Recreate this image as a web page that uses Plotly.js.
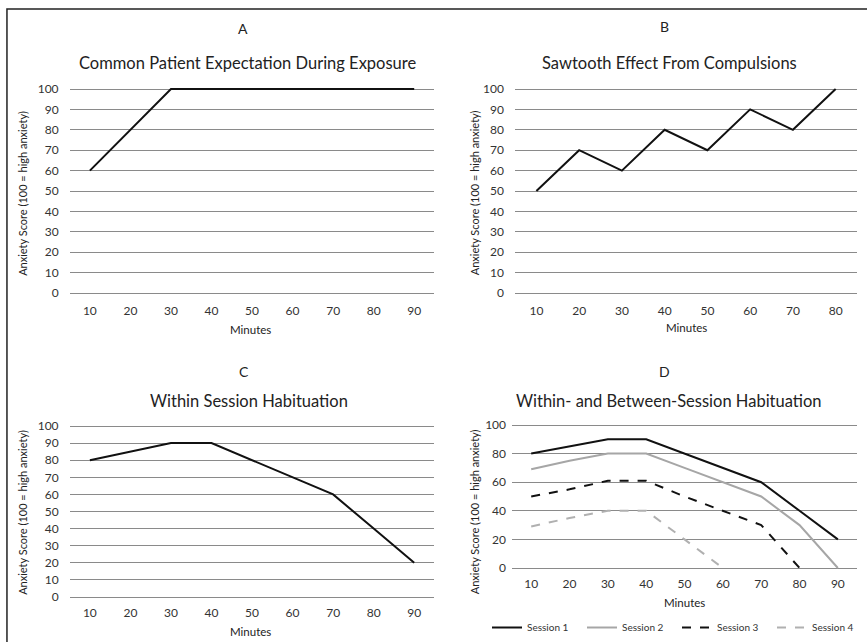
<!DOCTYPE html>
<html>
<head>
<meta charset="utf-8">
<script src="https://cdn.plot.ly/plotly-3.0.1.min.js"></script>
<style>html,body{margin:0;padding:0;background:#fff;overflow:hidden;}#chart{width:867px;height:642px;}</style>
</head>
<body>
<div id="chart"></div>
<script>
// ---- data ----
const minutesA = [10, 20, 30, 40, 50, 60, 70, 80, 90];
const anxietyA = [60, 80, 100, 100, 100, 100, 100, 100, 100];

const minutesB = [10, 20, 30, 40, 50, 60, 70, 80];
const anxietyB = [50, 70, 60, 80, 70, 90, 80, 100];

const minutesC = [10, 20, 30, 40, 50, 60, 70, 80, 90];
const anxietyC = [80, 85, 90, 90, 80, 70, 60, 40, 20];

const minutesD = [10, 20, 30, 40, 50, 60, 70, 80, 90];
const session1 = [80, 85, 90, 90, 80, 70, 60, 40, 20];
const session2 = [69, 75, 80, 80, 70, 60, 50, 30, 0];
const session3 = [50, 55, 61, 61, 50, 40, 30, 0];
const session4 = [29, 35, 40, 40, 20, 0];

const sessionNames = ["Session 1", "Session 2", "Session 3", "Session 4"];
const panelLetters = ["A", "B", "C", "D"];
const panelTitles = [
  "Common Patient Expectation During Exposure",
  "Sawtooth Effect From Compulsions",
  "Within Session Habituation",
  "Within- and Between-Session Habituation"
];
const yTitle = "Anxiety Score (100 = high anxiety)";
const xTitle = "Minutes";

// ---- layout helpers ----
const W = 867, H = 642;
const px = v => v / W;
const py = v => 1 - v / H;
const FONT = "Lato, 'Open Sans', sans-serif";
const GRID = "#8a8a8a";
const TICKFONT = {family: FONT, size: 12, color: "#333"};

const traces = [
  {x: minutesA, y: anxietyA, xaxis: "x", yaxis: "y", mode: "lines", line: {color: "#111", width: 2}, showlegend: false},
  {x: minutesB, y: anxietyB, xaxis: "x2", yaxis: "y2", mode: "lines", line: {color: "#111", width: 2}, showlegend: false},
  {x: minutesC, y: anxietyC, xaxis: "x3", yaxis: "y3", mode: "lines", line: {color: "#111", width: 2}, showlegend: false},
  {x: minutesD, y: session1, xaxis: "x4", yaxis: "y4", mode: "lines", name: sessionNames[0], line: {color: "#111", width: 2}},
  {x: minutesD, y: session2, xaxis: "x4", yaxis: "y4", mode: "lines", name: sessionNames[1], line: {color: "#a6a6a6", width: 2}},
  {x: minutesD.slice(0, session3.length), y: session3, xaxis: "x4", yaxis: "y4", mode: "lines", name: sessionNames[2], line: {color: "#111", width: 2, dash: "dash"}},
  {x: minutesD.slice(0, session4.length), y: session4, xaxis: "x4", yaxis: "y4", mode: "lines", name: sessionNames[3], line: {color: "#b0b0b0", width: 2, dash: "dash"}}
];

function xax(anchor, domain, range, tickvals, standoff) {
  return {anchor: anchor, domain: domain, range: range, tickvals: tickvals, ticktext: tickvals.map(String),
    showgrid: false, zeroline: false, showline: false, ticks: "", ticklabelstandoff: standoff,
    tickfont: TICKFONT, fixedrange: true, automargin: false};
}
// y axis: pixel row of value 100 (top) and value 0 (bottom); pad a few px so edge gridlines are kept
function yax(anchor, topPx, botPx, dtick, standoff) {
  const pad = 3;
  const upp = 100 / (botPx - topPx);
  return {anchor: anchor, domain: [py(botPx + pad), py(topPx - pad)], range: [-pad * upp, 100 + pad * upp],
    dtick: dtick, tick0: 0, showgrid: true, gridcolor: GRID, gridwidth: 1, zeroline: false, showline: false,
    ticks: "", ticklabelstandoff: standoff, tickfont: TICKFONT, fixedrange: true, automargin: false};
}

const layout = {
  width: W, height: H, autosize: false,
  margin: {l: 0, r: 0, t: 0, b: 0, pad: 0},
  paper_bgcolor: "#fff", plot_bgcolor: "rgba(0,0,0,0)",
  font: {family: FONT, color: "#222"},
  xaxis: xax("y", [px(70), px(437)], [5, 95], minutesA, 6),
  yaxis: yax("x", 89, 293, 10, 10),
  xaxis2: xax("y2", [px(518), px(862)], [5, 85], minutesB, 6),
  yaxis2: yax("x2", 89, 293, 10, 10),
  xaxis3: xax("y3", [px(70), px(437)], [5, 95], minutesC, 4),
  yaxis3: yax("x3", 426, 597, 10, 10),
  xaxis4: xax("y4", [px(515), px(862)], [5, 95], minutesD, 4),
  yaxis4: yax("x4", 425, 568, 20, 5),
  showlegend: true,
  legend: {orientation: "h", x: px(490), xanchor: "left", y: 0, yanchor: "bottom",
    font: {family: FONT, size: 10, color: "#333"}, entrywidth: 50, entrywidthmode: "pixels",
    bgcolor: "rgba(0,0,0,0)", borderwidth: 0, tracegroupgap: 0, itemwidth: 30},
  shapes: [
    {type: "rect", xref: "paper", yref: "paper", x0: px(7), y0: py(9), x1: 1.02, y1: -0.02,
     line: {color: "#222", width: 1.5}, fillcolor: "rgba(0,0,0,0)"}
  ],
  annotations: []
};

function ann(text, x, y, size, extra) {
  layout.annotations.push(Object.assign({text: text, xref: "paper", yref: "paper", x: px(x), y: py(y),
    xanchor: "center", yanchor: "middle", showarrow: false, font: {family: FONT, size: size, color: "#222"}}, extra || {}));
}
// panel letters
ann(panelLetters[0], 244, 28, 14);
ann(panelLetters[1], 668, 27, 14);
ann(panelLetters[2], 245, 372, 14);
ann(panelLetters[3], 668, 372, 14);
// panel titles
ann(panelTitles[0], 249, 63, 16.5);
ann(panelTitles[1], 673, 63, 16.5);
ann(panelTitles[2], 250, 401, 16.5);
ann(panelTitles[3], 673, 401, 16.5);
// y titles
ann(yTitle, 22, 193, 11, {textangle: -90});
ann(yTitle, 477, 193, 11, {textangle: -90});
ann(yTitle, 22, 512, 11, {textangle: -90});
ann(yTitle, 477, 512, 11, {textangle: -90});
// x titles
ann(xTitle, 252, 329, 11.5);
ann(xTitle, 690, 328, 11.5);
ann(xTitle, 252, 631, 11.5);
ann(xTitle, 688, 602, 11.5);

Plotly.newPlot("chart", traces, layout, {displayModeBar: false, staticPlot: true});
</script>
</body>
</html>
